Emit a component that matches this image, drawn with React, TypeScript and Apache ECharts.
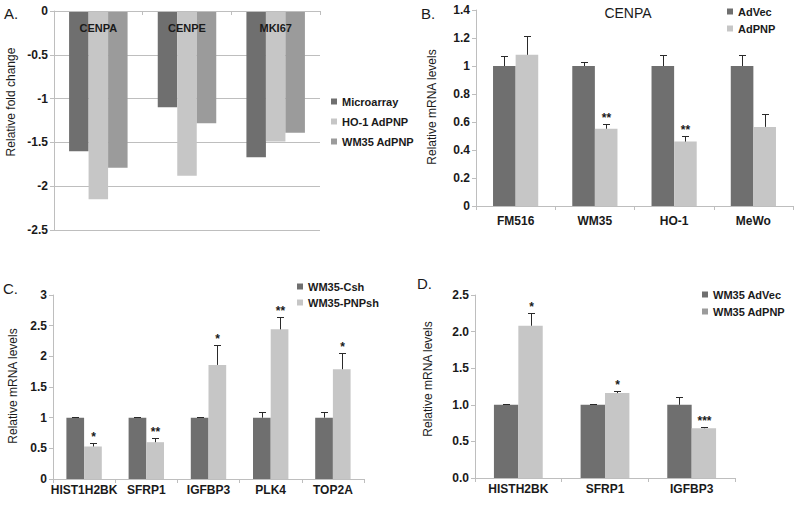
import React, { useEffect, useRef } from 'react';
import * as echarts from 'echarts';

const FONT = '"Liberation Sans", Arial, Helvetica, sans-serif';
const DARK = '#6f6f6f';
const LIGHT = '#c6c6c6';
const MID = '#9b9b9b';
const AXIS = '#bebebe';
const INK = '#1a1a1a';

// Panel A
const catsA = ['CENPA', 'CENPE', 'MKI67'];
const microarray = [-1.6, -1.1, -1.67];
const ho1AdPNP = [-2.15, -1.88, -1.49];
const wm35AdPNPA = [-1.79, -1.28, -1.39];

// Panel B
const catsB = ['FM516', 'WM35', 'HO-1', 'MeWo'];
const adVec = [1, 1, 1, 1];
const adVecErr = [0.07, 0.026, 0.076, 0.076];
const adPNP = [1.08, 0.552, 0.46, 0.565];
const adPNPErr = [0.135, 0.031, 0.04, 0.09];
const starsB = ['', '**', '**', ''];

// Panel C
const catsC = ['HIST1H2BK', 'SFRP1', 'IGFBP3', 'PLK4', 'TOP2A'];
const csh = [1, 1, 1, 1, 1];
const cshErr = [0.006, 0.006, 0.006, 0.09, 0.09];
const pnpsh = [0.53, 0.6, 1.86, 2.44, 1.79];
const pnpshErr = [0.065, 0.065, 0.32, 0.195, 0.26];
const starsC = ['*', '**', '*', '**', '*'];

// Panel D
const catsD = ['HISTH2BK', 'SFRP1', 'IGFBP3'];
const dAdVec = [1, 1, 1];
const dAdVecErr = [0.006, 0.006, 0.113];
const dAdPNP = [2.08, 1.16, 0.68];
const dAdPNPErr = [0.18, 0.035, 0.022];
const starsD = ['*', '*', '***'];

function errorSeries(idx: number, vals: number[], errs: number[], offset: number, stars?: string[]) {
  return {
    type: 'custom',
    name: 'err' + idx + '_' + offset,
    xAxisIndex: idx,
    yAxisIndex: idx,
    z: 5,
    silent: true,
    data: vals.map((v, i) => [i, v, v + errs[i]]),
    renderItem: (params: any, api: any) => {
      const i = api.value(0);
      const base = api.coord([i, api.value(1)]);
      const top = api.coord([i, api.value(2)]);
      const x = Math.round(base[0] + offset) + 0.5;
      const ty = Math.round(top[1]) + 0.5;
      const children: any[] = [
        { type: 'line', shape: { x1: x, y1: base[1], x2: x, y2: ty }, style: { stroke: '#2a2a2a', lineWidth: 1 } },
        { type: 'line', shape: { x1: x - 3.5, y1: ty, x2: x + 3.5, y2: ty }, style: { stroke: '#2a2a2a', lineWidth: 1 } },
      ];
      const s = stars ? stars[params.dataIndex] : '';
      if (s) {
        children.push({
          type: 'text',
          x: x,
          y: ty - 1,
          style: {
            text: s,
            textAlign: 'center',
            textVerticalAlign: 'bottom',
            font: 'bold 12px ' + FONT,
            fill: INK,
          },
        });
      }
      return { type: 'group', children };
    },
  };
}

const tickLabel = { fontFamily: FONT, fontSize: 12, fontWeight: 'bold', color: INK };

function yAxis(idx: number, min: number, max: number, interval: number, fmt?: (v: number) => string, split = false) {
  return {
    type: 'value',
    gridIndex: idx,
    min,
    max,
    interval,
    axisLine: { show: true, lineStyle: { color: AXIS, width: 1 } },
    axisTick: { show: true, length: 4, lineStyle: { color: AXIS } },
    splitLine: { show: split, lineStyle: { color: AXIS, width: 1 } },
    axisLabel: { ...tickLabel, margin: 6, formatter: fmt },
  };
}

function xAxis(idx: number, data: string[], margin: number) {
  return {
    type: 'category',
    gridIndex: idx,
    data,
    axisLine: { show: true, lineStyle: { color: AXIS, width: 1 } },
    axisTick: { show: true, length: 4, lineStyle: { color: AXIS } },
    axisLabel: { ...tickLabel, margin, interval: 0 },
  };
}

function bar(name: string, idx: number, data: number[], color: string, width: number) {
  return {
    type: 'bar',
    name,
    xAxisIndex: idx,
    yAxisIndex: idx,
    data,
    barWidth: width,
    barGap: '0%',
    itemStyle: { color },
    silent: true,
  };
}

function legend(names: string[], left: number, top: number, gap: number) {
  return {
    data: names,
    orient: 'vertical',
    left,
    top,
    itemWidth: 6,
    itemHeight: 6,
    itemGap: gap,
    icon: 'rect',
    selectedMode: false,
    textStyle: { fontFamily: FONT, fontSize: 11, fontWeight: 'bold', color: INK },
  };
}

function label(text: string, x: number, y: number, size = 15, align = 'left') {
  return {
    type: 'text',
    x,
    y,
    style: { text, textAlign: align, textVerticalAlign: 'middle', font: `normal ${size}px ${FONT}`, fill: INK },
  };
}

function vlabel(text: string, x: number, y: number) {
  return {
    type: 'text',
    x,
    y,
    rotation: Math.PI / 2,
    style: { text, textAlign: 'center', textVerticalAlign: 'middle', font: `normal 12px ${FONT}`, fill: INK },
  };
}

export default function App() {
  const ref = useRef<HTMLDivElement>(null);
  useEffect(() => {
    if (!ref.current) return;
    const chart = echarts.init(ref.current, undefined, { renderer: 'svg' });
    const bwA = 19.5, bwB = 22.6, bwC = 17.7, bwD = 24.4;
    const option: any = {
      animation: false,
      backgroundColor: '#ffffff',
      grid: [
        { left: 54, top: 11, width: 266, height: 219 },
        { left: 476, top: 10, width: 317, height: 196 },
        { left: 53, top: 295, width: 311, height: 184 },
        { left: 475, top: 295, width: 260, height: 183 },
      ],
      xAxis: [
        {
          type: 'category',
          gridIndex: 0,
          position: 'top',
          data: catsA,
          z: 10,
          axisLine: { show: true, lineStyle: { color: AXIS, width: 1 } },
          axisTick: { show: true, inside: true, length: 4, lineStyle: { color: AXIS } },
          axisLabel: { ...tickLabel, fontSize: 11, inside: true, margin: 11, interval: 0 },
        },
        xAxis(1, catsB, 9),
        xAxis(2, catsC, 5),
        xAxis(3, catsD, 5),
      ],
      yAxis: [
        yAxis(0, -2.5, 0, 0.5, (v: number) => String(v), true),
        yAxis(1, 0, 1.4, 0.2, (v: number) => String(Math.round(v * 10) / 10)),
        yAxis(2, 0, 3, 0.5, (v: number) => String(v)),
        yAxis(3, 0, 2.5, 0.5, (v: number) => v.toFixed(1)),
      ],
      legend: [
        legend(['Microarray', 'HO-1 AdPNP', 'WM35 AdPNP'], 326, 91, 9),
        legend(['AdVec', 'AdPNP'], 722, 1, 6),
        legend(['WM35-Csh', 'WM35-PNPsh'], 292, 276, 5),
        legend(['WM35 AdVec', 'WM35 AdPNP'], 697, 284, 6),
      ],
      series: [
        bar('Microarray', 0, microarray, DARK, bwA),
        bar('HO-1 AdPNP', 0, ho1AdPNP, LIGHT, bwA),
        bar('WM35 AdPNP', 0, wm35AdPNPA, MID, bwA),
        bar('AdVec', 1, adVec, DARK, bwB),
        bar('AdPNP', 1, adPNP, LIGHT, bwB),
        errorSeries(1, adVec, adVecErr, -bwB / 2),
        errorSeries(1, adPNP, adPNPErr, bwB / 2, starsB),
        bar('WM35-Csh', 2, csh, DARK, bwC),
        bar('WM35-PNPsh', 2, pnpsh, LIGHT, bwC),
        errorSeries(2, csh, cshErr, -bwC / 2),
        errorSeries(2, pnpsh, pnpshErr, bwC / 2, starsC),
        bar('WM35 AdVec', 3, dAdVec, DARK, bwD),
        bar('WM35 AdPNP', 3, dAdPNP, LIGHT, bwD),
        errorSeries(3, dAdVec, dAdVecErr, -bwD / 2),
        errorSeries(3, dAdPNP, dAdPNPErr, bwD / 2, starsD),
      ],
      graphic: [
        label('A.', 4, 13),
        label('B.', 421, 13),
        label('C.', 3, 288),
        label('D.', 417, 283),
        label('CENPA', 628, 13, 14, 'center'),
        vlabel('Relative fold change', 11, 102),
        vlabel('Relative mRNA levels', 432, 107),
        vlabel('Relative mRNA levels', 13, 386),
        vlabel('Relative mRNA levels', 428, 379),
      ],
    };
    chart.setOption(option);
    return () => chart.dispose();
  }, []);
  return (
    <div
      ref={ref}
      style={{ position: 'fixed', left: 0, top: 0, width: 800, height: 508, background: '#fff' }}
    />
  );
}
